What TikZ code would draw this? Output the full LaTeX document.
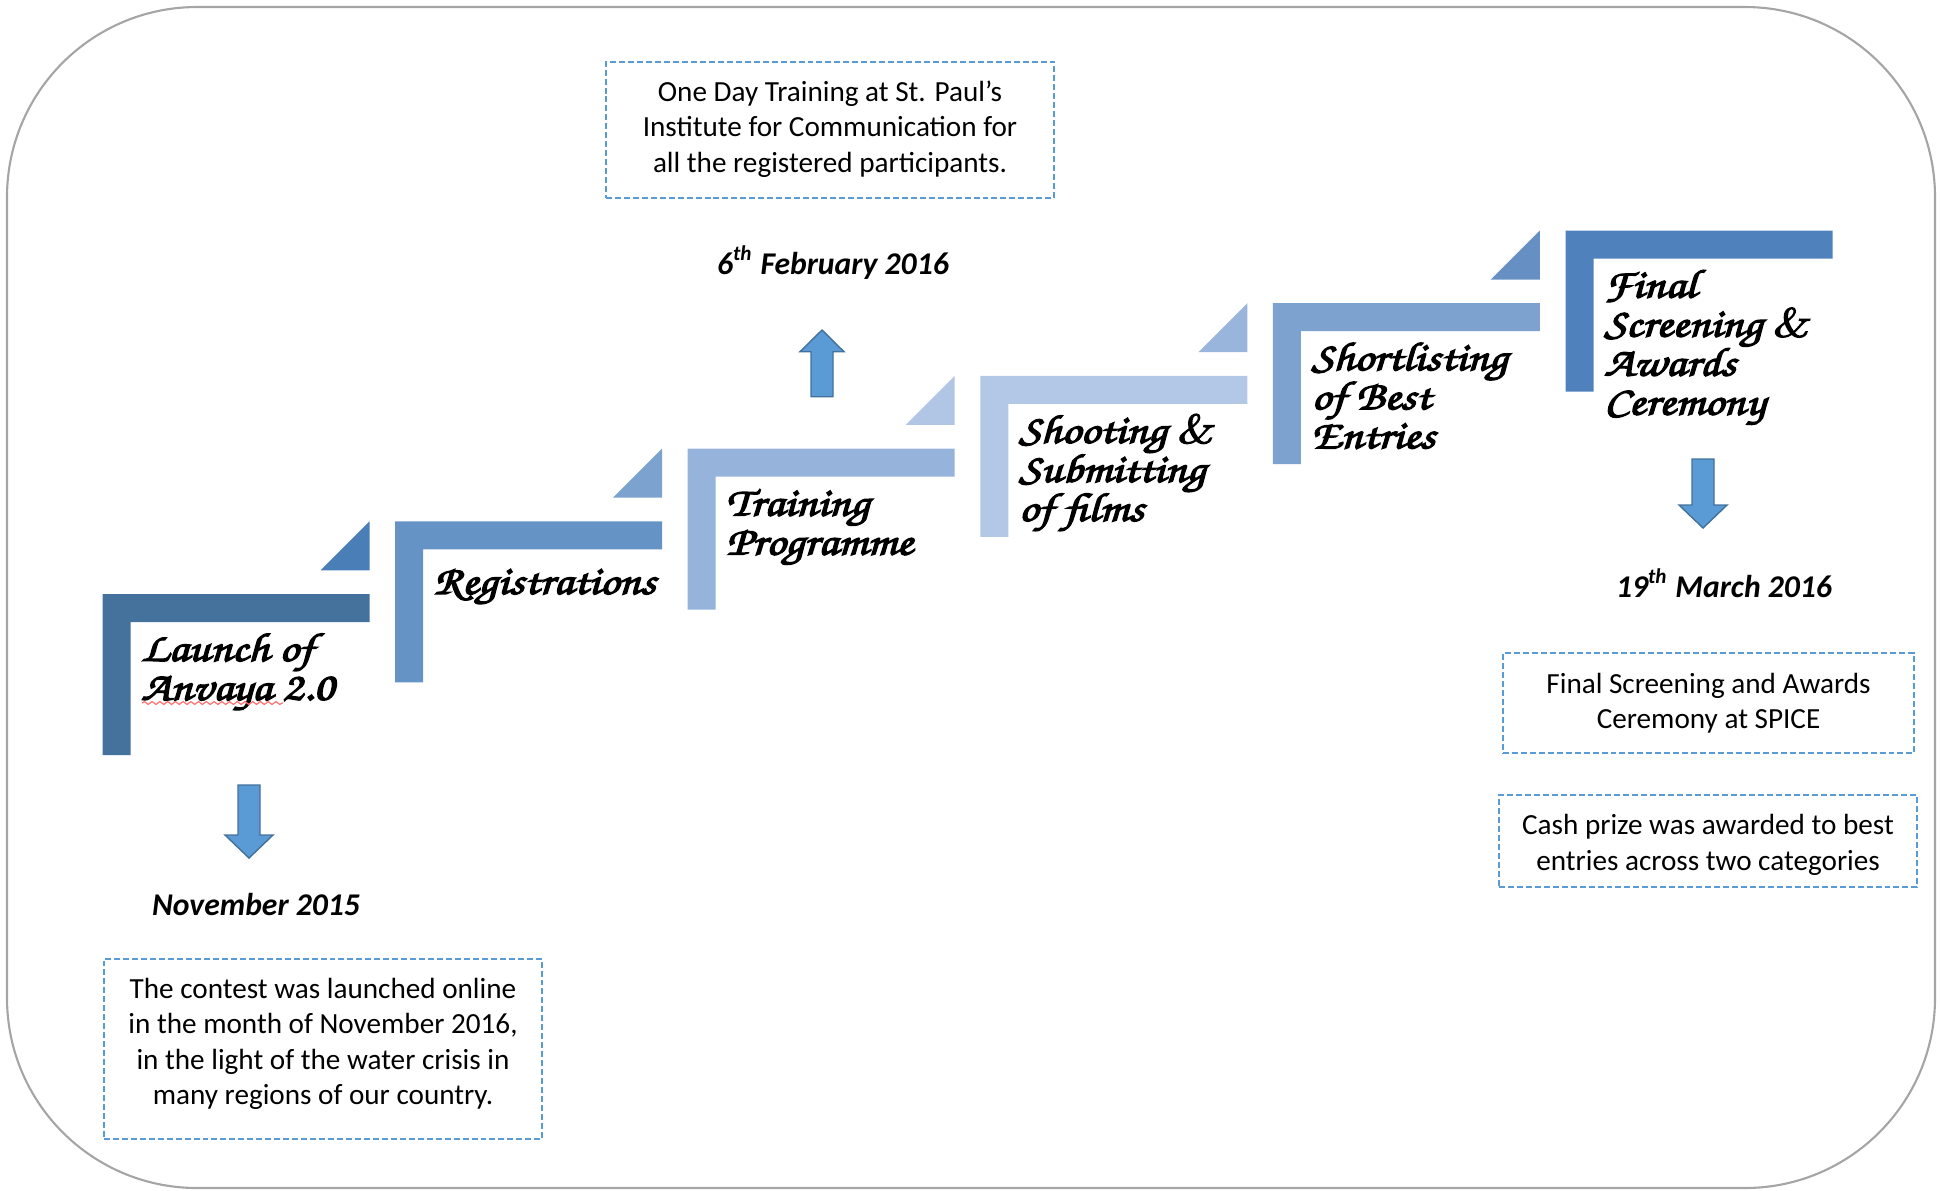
\documentclass[tikz,border=0pt]{standalone}
\usepackage[T1,TU]{fontenc}
\usepackage{fontspec}
\usepackage{graphicx}
\usetikzlibrary{decorations.pathmorphing}
\newfontfamily\cali{Carlito}
\newcommand\chanc{\fontencoding{T1}\fontfamily{pzc}\fontseries{mb}\fontshape{it}\fontsize{11.5}{11.1}\selectfont}
\newcommand\steplines[1]{\special{pdf:literal direct 2 Tr 0.35 w}\scalebox{1.17}[1]{\vtop{\baselineskip=11.1pt\lineskiplimit=-100pt #1}}\special{pdf:literal direct 0 Tr}}
\newcommand\amp{{\normalfont\slshape\&}}
\newcommand\blockarr[5]{%
  \fill[arrowst] ({#1-11},#2) -- ({#1+11},#2) -- ({#1+11},#3) -- ({#1+#5},#3) -- (#1,#4) -- ({#1-#5},#3) -- ({#1-11},#3) -- cycle;}
\definecolor{cLa}{HTML}{44729D}
\definecolor{cTa}{HTML}{4A7EB6}
\definecolor{cLb}{HTML}{6593C5}
\definecolor{cTb}{HTML}{7CA2D0}
\definecolor{cLc}{HTML}{95B3DB}
\definecolor{cTc}{HTML}{B0C6E4}
\definecolor{cLd}{HTML}{B2C8E6}
\definecolor{cTd}{HTML}{99B5DB}
\definecolor{cLe}{HTML}{7EA2CF}
\definecolor{cTe}{HTML}{6690C4}
\definecolor{cLf}{HTML}{4F81BD}
\definecolor{dashblue}{HTML}{5B9BD5}
\definecolor{arrfill}{HTML}{5B9BD5}
\definecolor{arrline}{HTML}{41719C}
\definecolor{framegray}{HTML}{A5A5A5}
\tikzset{
  arrowst/.style={fill=arrfill, draw=arrline, line width=0.4pt},
  infobox/.style={draw=dashblue, line width=0.45pt, dash pattern=on 1.7pt off 0.85pt, inner sep=0pt},
  boxtext/.style={align=center, inner sep=0pt, text=black, font=\cali\fontsize{8.3}{10.1}\selectfont},
  datelbl/.style={anchor=base, inner sep=0pt, font=\cali\bfseries\itshape\fontsize{9}{11}\selectfont},
  steptext/.style={anchor=base west, inner sep=0pt, text=black, font=\chanc},
}
\begin{document}
\begin{tikzpicture}[x=0.01cm, y=-0.01cm]
\useasboundingbox (0,0) rectangle (1940,1190);
\draw[framegray, line width=0.6pt, rounded corners=1.9cm] (7,7) rectangle (1935,1188);

% steps (L shapes) and triangles
\foreach \i/\lc in {0/cLa,1/cLb,2/cLc,3/cLd,4/cLe,5/cLf}{
  \pgfmathsetmacro\lx{102.5+292.6*\i}
  \pgfmathsetmacro\ty{594-72.7*\i}
  \fill[\lc] (\lx,\ty) -- ++(267,0) -- ++(0,28) -- ++(-239,0) -- ++(0,133) -- ++(-28,0) -- cycle;
}
\foreach \i/\tc in {0/cTa,1/cTb,2/cTc,3/cTd,4/cTe}{
  \pgfmathsetmacro\rx{102.5+292.6*\i+267}
  \pgfmathsetmacro\ty{594-72.7*(\i+1)}
  \fill[\tc] (\rx,\ty) -- ++(0,49) -- ++(-49,0) -- cycle;
}

% step texts
\node[steptext] (s1) at (140.5,661) {\steplines{\hbox{Launch of}\hbox{Anvaya 2.0}}};
\node[steptext] (s2) at (433.1,594) {\steplines{\hbox{Registrations}}};
\node[steptext] (s3) at (725.7,515.6) {\steplines{\hbox{Training}\hbox{Programme}}};
\node[steptext] (s4) at (1018.3,442.9) {\steplines{\hbox{Shooting \amp}\hbox{Submitting}\hbox{of films}}};
\node[steptext] (s5) at (1310.9,370.2) {\steplines{\hbox{Shortlisting}\hbox{of Best}\hbox{Entries}}};
\node[steptext] (s6) at (1603.5,297.5) {\steplines{\hbox{Final}\hbox{Screening \amp}\hbox{Awards}\hbox{Ceremony}}};
\draw[red!55, line width=0.35pt, decorate, decoration={snake, amplitude=0.4pt, segment length=2.2pt}] (142,703) -- (283,703);

% block arrows
\blockarr{249}{785}{835}{858}{24}
\blockarr{822}{396.7}{351.7}{330}{22}
\blockarr{1703}{459}{505}{528}{24}

% dates
\node[datelbl] (d1) at (256,915) {November 2015};
\node[datelbl] (d2) at (833,274) {6\textsuperscript{th} February 2016};
\node[datelbl] (d3) at (1724,597) {19\textsuperscript{th} March 2016};

% info boxes
\node[infobox, minimum width=4.48cm, minimum height=1.36cm] (b1) at (830,130) {};
\node[boxtext] (b1t) at (830,129)
  {One Day Training at St. Paul’s\\Institute for Communication for\\all the registered participants.};
\node[infobox, minimum width=4.38cm, minimum height=1.80cm] (b2) at (323,1049) {};
\node[boxtext] (b2t) at (323,1044)
  {The contest was launched online\\in the month of November 2016,\\in the light of the water crisis in\\many regions of our country.};
\node[infobox, minimum width=4.11cm, minimum height=1.00cm] (b3) at (1708.5,703) {};
\node[boxtext] (b3t) at (1708.5,703)
  {Final Screening and Awards\\Ceremony at SPICE};
\node[infobox, minimum width=4.18cm, minimum height=0.92cm] (b4) at (1708,841) {};
\node[boxtext] (b4t) at (1708,845)
  {Cash prize was awarded to best\\entries across two categories};
\end{tikzpicture}
\end{document}
